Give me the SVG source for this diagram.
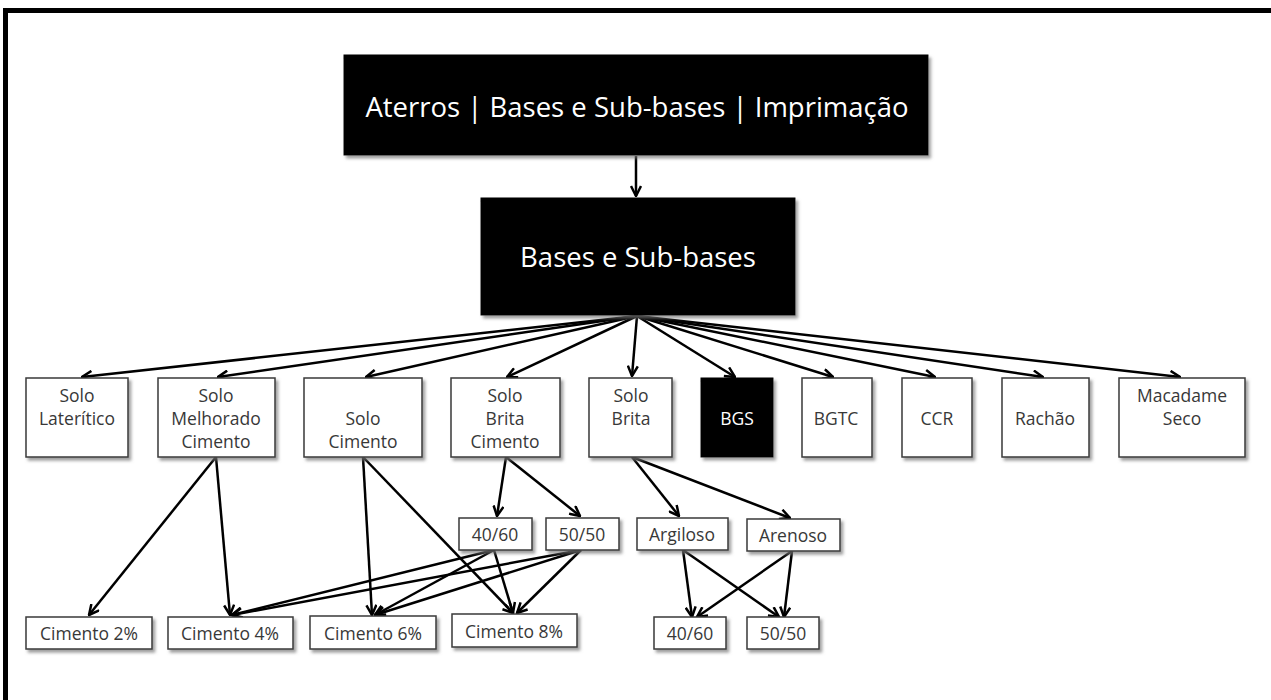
<svg xmlns="http://www.w3.org/2000/svg" width="1271" height="700" viewBox="0 0 1271 700">
<style>
  .box { fill: #ffffff; stroke: #3a3a3a; stroke-width: 1.5; filter: url(#sh); }
  .dark { fill: #000000; stroke: #000000; stroke-width: 1; filter: url(#sh); }
  .t { font-family: "Open Sans", "Noto Sans", "Liberation Sans", sans-serif; font-size: 17.5px; fill: #383838; text-anchor: middle; dominant-baseline: central; }
  .tw { font-family: "Open Sans", "Noto Sans", "Liberation Sans", sans-serif; fill: #ffffff; text-anchor: middle; dominant-baseline: central; }
  .e { fill: none; stroke: #000000; stroke-width: 2.5; marker-end: url(#arr); }
</style>
<defs>
  <filter id="sh" x="-10%" y="-10%" width="130%" height="140%">
    <feDropShadow dx="2.5" dy="3" stdDeviation="1.5" flood-color="#777777" flood-opacity="0.7"/>
  </filter>
  <marker id="arr" viewBox="0 0 12 12" refX="11" refY="6" markerWidth="12" markerHeight="12" markerUnits="userSpaceOnUse" orient="auto">
    <path d="M1,1 L11,6 L1,11" fill="none" stroke="#000000" stroke-width="2.5" stroke-linejoin="miter"/>
  </marker>
</defs>
<rect x="0" y="0" width="1271" height="700" fill="#ffffff"/>
<rect x="3" y="8" width="1268" height="5" fill="#000000"/>
<rect x="3" y="8" width="5" height="692" fill="#000000"/>

<g id="connectors">
  <line class="e" x1="636" y1="156" x2="636" y2="196"/>
  <line class="e" x1="637" y1="316" x2="82" y2="377"/>
  <line class="e" x1="637" y1="316" x2="218" y2="377"/>
  <line class="e" x1="637" y1="316" x2="366" y2="377"/>
  <line class="e" x1="637" y1="316" x2="507" y2="377"/>
  <line class="e" x1="637" y1="316" x2="632" y2="376"/>
  <line class="e" x1="637" y1="316" x2="735" y2="377"/>
  <line class="e" x1="637" y1="316" x2="833" y2="377"/>
  <line class="e" x1="637" y1="316" x2="935" y2="377"/>
  <line class="e" x1="637" y1="316" x2="1043" y2="377"/>
  <line class="e" x1="637" y1="316" x2="1180" y2="377"/>
  <line class="e" x1="216" y1="457" x2="89" y2="615"/>
  <line class="e" x1="216" y1="457" x2="230" y2="615"/>
  <line class="e" x1="363" y1="457" x2="372" y2="615"/>
  <line class="e" x1="363" y1="457" x2="513" y2="613"/>
  <line class="e" x1="506" y1="457" x2="497" y2="516"/>
  <line class="e" x1="506" y1="457" x2="580" y2="516"/>
  <line class="e" x1="632" y1="457" x2="679" y2="516"/>
  <line class="e" x1="632" y1="457" x2="790" y2="518"/>
  <line class="e" x1="494" y1="550" x2="232" y2="615"/>
  <line class="e" x1="494" y1="550" x2="375" y2="615"/>
  <line class="e" x1="494" y1="550" x2="513" y2="613"/>
  <line class="e" x1="581" y1="550" x2="232" y2="615"/>
  <line class="e" x1="581" y1="550" x2="375" y2="615"/>
  <line class="e" x1="581" y1="550" x2="517" y2="613"/>
  <line class="e" x1="683" y1="550" x2="692" y2="617"/>
  <line class="e" x1="683" y1="550" x2="779" y2="617"/>
  <line class="e" x1="792" y1="551" x2="697" y2="617"/>
  <line class="e" x1="792" y1="551" x2="784" y2="617"/>
</g>

<g id="n-top">
  <rect class="dark" x="344" y="55" width="584" height="100"/>
  <text class="tw" x="637" y="106" font-size="27.5">Aterros | Bases e Sub-bases | Imprimação</text>
</g>
<g id="n-bases">
  <rect class="dark" x="481" y="198" width="314" height="117"/>
  <text class="tw" x="638" y="256" font-size="27.5">Bases e Sub-bases</text>
</g>

<g id="n-laterito">
  <rect class="box" x="26" y="378" width="102" height="79"/>
  <text class="t" x="77" y="395">Solo</text>
  <text class="t" x="77" y="418">Laterítico</text>
</g>
<g id="n-melhorado">
  <rect class="box" x="158" y="378" width="117" height="79"/>
  <text class="t" x="216" y="395">Solo</text>
  <text class="t" x="216" y="418">Melhorado</text>
  <text class="t" x="216" y="441">Cimento</text>
</g>
<g id="n-solocimento">
  <rect class="box" x="304" y="378" width="118" height="79"/>
  <text class="t" x="363" y="418">Solo</text>
  <text class="t" x="363" y="441">Cimento</text>
</g>
<g id="n-sbc">
  <rect class="box" x="451" y="378" width="109" height="79"/>
  <text class="t" x="505" y="395">Solo</text>
  <text class="t" x="505" y="418">Brita</text>
  <text class="t" x="505" y="441">Cimento</text>
</g>
<g id="n-solobrita">
  <rect class="box" x="589" y="378" width="83" height="79"/>
  <text class="t" x="631" y="395">Solo</text>
  <text class="t" x="631" y="418">Brita</text>
</g>
<g id="n-bgs">
  <rect class="dark" x="701" y="378" width="72" height="79"/>
  <text class="tw" x="737" y="418" font-size="17.5">BGS</text>
</g>
<g id="n-bgtc">
  <rect class="box" x="802" y="378" width="70" height="79"/>
  <text class="t" x="836" y="418">BGTC</text>
</g>
<g id="n-ccr">
  <rect class="box" x="902" y="378" width="70" height="79"/>
  <text class="t" x="937" y="418">CCR</text>
</g>
<g id="n-rachao">
  <rect class="box" x="1002" y="378" width="87" height="79"/>
  <text class="t" x="1045" y="418">Rachão</text>
</g>
<g id="n-macadame">
  <rect class="box" x="1119" y="378" width="126" height="79"/>
  <text class="t" x="1182" y="395">Macadame</text>
  <text class="t" x="1182" y="418">Seco</text>
</g>

<g id="n-sbc-4060">
  <rect class="box" x="459" y="518" width="73" height="32"/>
  <text class="t" x="495" y="534">40/60</text>
</g>
<g id="n-sbc-5050">
  <rect class="box" x="546" y="518" width="73" height="32"/>
  <text class="t" x="582" y="534">50/50</text>
</g>
<g id="n-argiloso">
  <rect class="box" x="637" y="518" width="91" height="32"/>
  <text class="t" x="682" y="534">Argiloso</text>
</g>
<g id="n-arenoso">
  <rect class="box" x="747" y="519" width="93" height="32"/>
  <text class="t" x="793" y="535">Arenoso</text>
</g>

<g id="n-c2">
  <rect class="box" x="26" y="617" width="126" height="32"/>
  <text class="t" x="89" y="633">Cimento 2%</text>
</g>
<g id="n-c4">
  <rect class="box" x="168" y="617" width="125" height="32"/>
  <text class="t" x="230" y="633">Cimento 4%</text>
</g>
<g id="n-c6">
  <rect class="box" x="310" y="616" width="126" height="33"/>
  <text class="t" x="373" y="633">Cimento 6%</text>
</g>
<g id="n-c8">
  <rect class="box" x="452" y="614" width="125" height="33"/>
  <text class="t" x="514" y="631">Cimento 8%</text>
</g>
<g id="n-sb-4060">
  <rect class="box" x="654" y="617" width="72" height="32"/>
  <text class="t" x="690" y="633">40/60</text>
</g>
<g id="n-sb-5050">
  <rect class="box" x="747" y="617" width="72" height="32"/>
  <text class="t" x="783" y="633">50/50</text>
</g>
</svg>
